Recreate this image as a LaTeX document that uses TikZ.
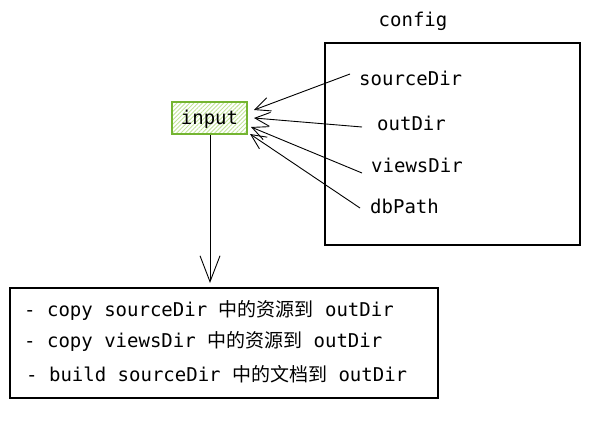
\documentclass[tikz,border=0pt]{standalone}
\usepackage{fontspec}
\setmonofont{DejaVu Sans Mono}
\newfontfamily\cjk{Noto Sans CJK SC}
\usetikzlibrary{arrows.meta,patterns.meta}
\definecolor{ingreen}{HTML}{74B531}
\definecolor{inhatch}{HTML}{C3E39A}
\begin{document}
\begin{tikzpicture}[x=1pt,y=-1pt,
  every node/.style={font=\ttfamily\fontsize{19}{23}\selectfont, inner sep=0pt},
  lbl/.style={anchor=west},
  arr/.style={draw=black, line width=0.9pt, -{Straight Barb[length=15pt,width=14pt,line width=0.9pt]}},
  box/.style={draw=black, line width=1.1pt},
  inbox/.style={draw=ingreen, line width=1.1pt, pattern={Lines[angle=45,distance=3pt,line width=0.9pt]}, pattern color=inhatch, minimum width=75pt, minimum height=32pt}]
\useasboundingbox (0,0) rectangle (591,420);
% config
\node (cfgtitle) at (413,21) {config};
\draw[box] (325,43) rectangle (580,245);
\node[lbl] (src) at (359,78) {sourceDir};
\node[lbl] (out) at (377,123) {outDir};
\node[lbl] (views) at (371,165) {viewsDir};
\node[lbl] (db) at (370,206) {dbPath};
% input
\node[inbox] (input) at (209.5,118) {};
\node (inputtxt) at (209.5,119) {input};
% arrows
\coordinate (s1) at (350,74);
\coordinate (e1) at (254,110);
\coordinate (s2) at (362,127);
\coordinate (e2) at (254,118);
\coordinate (s3) at (362,173);
\coordinate (e3) at (251,127);
\coordinate (s4) at (360,208);
\coordinate (e4) at (250,134);
\draw[arr] (s1) -- (e1);
\draw[arr] (s2) -- (e2);
\draw[arr] (s3) -- (e3);
\draw[arr] (s4) -- (e4);
% down arrow
\coordinate (d1) at (210,135);
\coordinate (d2) at (210,283);
\draw[draw=black, line width=0.9pt, -{Straight Barb[length=26pt,width=20pt,line width=0.9pt]}] (d1) -- (d2);
% bottom box
\draw[box] (10,288) rectangle (438,398);
\node[lbl] (t1) at (24,310) {- copy sourceDir {\cjk 中的资源到} outDir};
\node[lbl] (t2) at (24,341) {- copy viewsDir {\cjk 中的资源到} outDir};
\node[lbl] (t3) at (26,374) {- build sourceDir {\cjk 中的文档到} outDir};
\end{tikzpicture}
\end{document}
